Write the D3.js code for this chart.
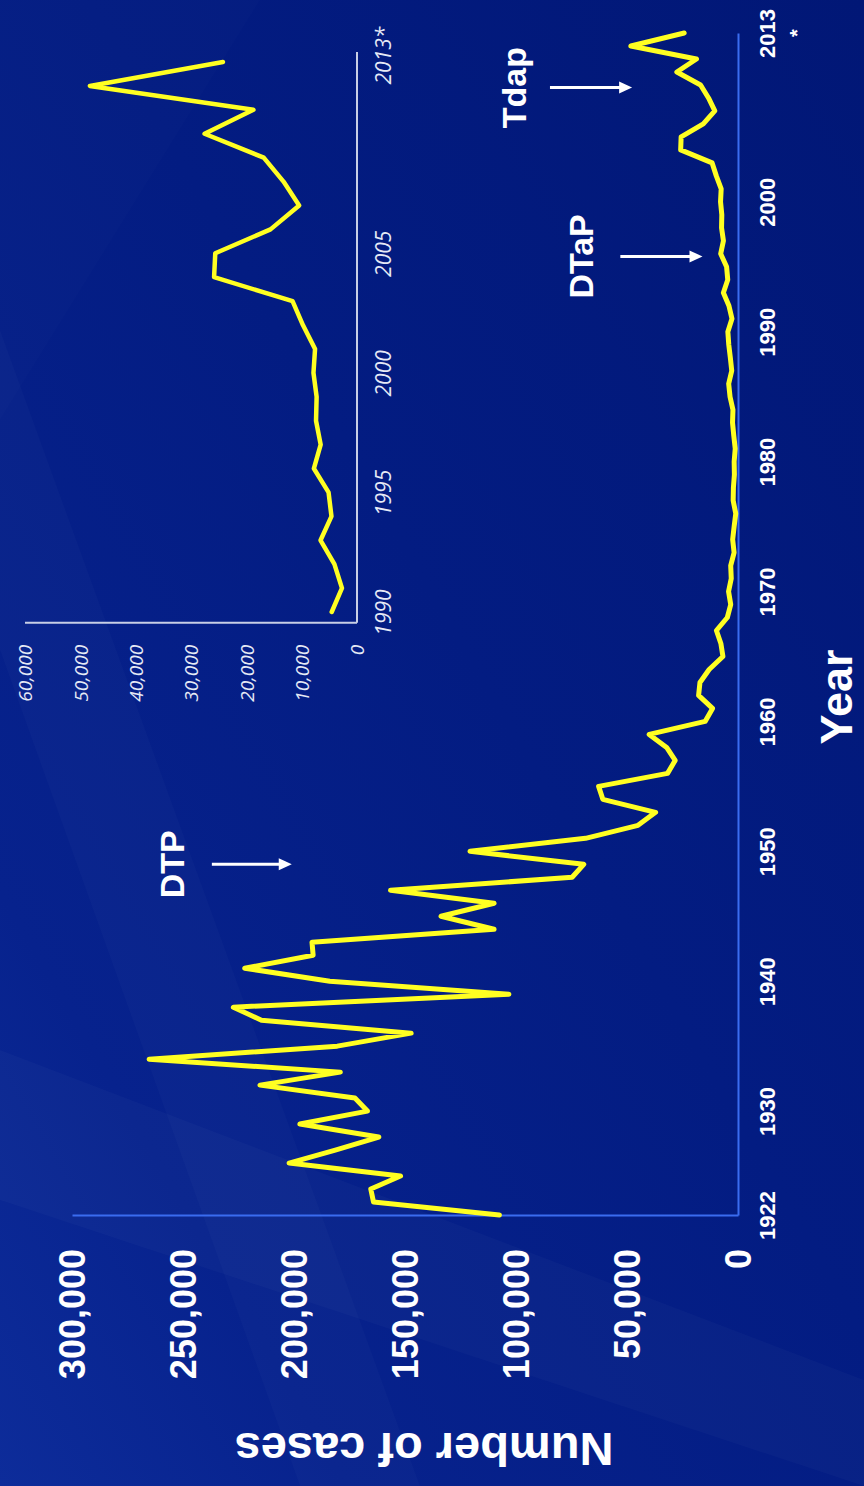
<!DOCTYPE html>
<html><head><meta charset="utf-8">
<script src="https://cdn.jsdelivr.net/npm/d3@7"></script>
<style>html,body{margin:0;padding:0;background:#06207f;} svg{display:block;}</style>
</head><body><svg id="c" width="864" height="1486"></svg>
<script>
// ---- data ----
const years = [1922,1923,1924,1925,1926,1927,1928,1929,1930,1931,1932,1933,1934,1935,1936,1937,1938,1939,1940,1941,1942,1943,1944,1945,1946,1947,1948,1949,1950,1951,1952,1953,1954,1955,1956,1957,1958,1959,1960,1961,1962,1963,1964,1965,1966,1967,1968,1969,1970,1971,1972,1973,1974,1975,1976,1977,1978,1979,1980,1981,1982,1983,1984,1985,1986,1987,1988,1989,1990,1991,1992,1993,1994,1995,1996,1997,1998,1999,2000,2001,2002,2003,2004,2005,2006,2007,2008,2009,2010,2011,2012,2013];
const cases = [107473,164191,165418,152003,202210,181411,161799,197371,166914,172559,215343,179135,265269,180518,147237,214652,227319,103188,183866,222202,191383,191890,109873,133792,109860,156517,74715,69479,120718,68687,45030,37129,60886,62786,31732,28295,32148,40005,14809,11468,17749,17135,13005,6799,7717,9718,4810,3285,4249,3036,3287,1759,2402,1738,1010,2177,2063,1623,1730,1248,1895,2463,2276,3589,4195,2823,3450,4157,4570,2719,4083,6586,4617,5137,7796,6564,7405,7298,7867,7580,9771,11647,25827,25616,15632,10454,13278,16858,27550,18719,48277,24231];
const insetYears = [1990,1991,1992,1993,1994,1995,1996,1997,1998,1999,2000,2001,2002,2003,2004,2005,2006,2007,2008,2009,2010,2011,2012,2013];
const insetCases = [4570,2719,4083,6586,4617,5137,7796,6564,7405,7298,7867,7580,9771,11647,25827,25616,15632,10454,13278,16858,27550,18719,48277,24231];
const mainYearTicks = [1922,1930,1940,1950,1960,1970,1980,1990,2000,2013];
const mainYearLabels = ["1922","1930","1940","1950","1960","1970","1980","1990","2000","2013"];
const mainCaseTicks = [0,50000,100000,150000,200000,250000,300000];
const insetYearTicks = [1990,1995,2000,2005,2013];
const insetYearLabels = ["1990","1995","2000","2005","2013*"];
const insetCaseTicks = [0,10000,20000,30000,40000,50000,60000];
const annotationLabels = ["DTP","DTaP","Tdap"];
const annotationYears = [1949,1995.8,2008.8];

// ---- layout ----
const svg = d3.select("#c");
const defs = svg.append("defs");
const g1 = defs.append("linearGradient").attr("id","bg").attr("x1","1").attr("y1","0").attr("x2","0").attr("y2","1");
g1.append("stop").attr("offset","0").attr("stop-color","#011776");
g1.append("stop").attr("offset","0.45").attr("stop-color","#031c82");
g1.append("stop").attr("offset","0.8").attr("stop-color","#07228d");
g1.append("stop").attr("offset","1").attr("stop-color","#0d2c9a");
svg.append("rect").attr("width",864).attr("height",1486).attr("fill","url(#bg)");
// subtle diagonal streaks
svg.append("path").attr("d","M0,330 L420,1486 L300,1486 L0,650 Z").attr("fill","#ffffff").attr("opacity",0.02);
svg.append("path").attr("d","M0,1050 L864,1380 L864,1486 L0,1200 Z").attr("fill","#ffffff").attr("opacity",0.025);
svg.append("path").attr("d","M0,0 L260,0 L0,420 Z").attr("fill","#ffffff").attr("opacity",0.012);

const boldFont = "'Liberation Sans', Arial, Helvetica, sans-serif";
const italicFont = "'Open Sans', 'DejaVu Sans', sans-serif";

// main scales (chart drawn rotated: years run upward, cases run leftward)
const yMain = d3.scaleLinear().domain([1922, 2013]).range([1215, 33]);
const xMain = d3.scaleLinear().domain([0, 300000]).range([738, 72]);

// year axis
const ya = svg.append("g").attr("transform","translate(738,0)")
  .call(d3.axisRight(yMain).tickValues(mainYearTicks).tickSize(0).tickSizeOuter(0)
        .tickFormat((d,i)=>mainYearLabels[i]));
ya.select(".domain").attr("stroke","#3a6cf0").attr("stroke-width",2);
ya.selectAll("text").attr("x",0).attr("y",0).attr("dy","0.36em")
  .attr("transform","translate(29,0) rotate(-90)").attr("text-anchor","middle")
  .attr("fill","#ffffff").style("font-family",boldFont).style("font-weight","bold").style("font-size","22px");
svg.append("text").attr("transform",`translate(790,${yMain(2013)}) rotate(-90)`).attr("text-anchor","middle")
  .attr("dy","0.7em").attr("fill","#ffffff").style("font-family",boldFont).style("font-weight","bold").style("font-size","20px").text("*");

// case axis
const xa = svg.append("g").attr("transform","translate(0,1215)")
  .call(d3.axisBottom(xMain).tickValues(mainCaseTicks).tickSize(0).tickSizeOuter(0).tickFormat(d3.format(",")));
xa.select(".domain").attr("stroke","#3a6cf0").attr("stroke-width",2);
xa.selectAll("text").attr("x",0).attr("y",0).attr("dy","0.36em")
  .attr("transform","translate(0,34) rotate(-90)").attr("text-anchor","end")
  .attr("fill","#ffffff").style("font-family",boldFont).style("font-weight","bold").style("font-size","36px");

// main line
const lineMain = d3.line().x((d,i)=>xMain(cases[i])).y((d,i)=>yMain(years[i]));
svg.append("path").datum(years).attr("d",lineMain).attr("fill","none")
  .attr("stroke","#ffff22").attr("stroke-width",5).attr("stroke-linejoin","round").attr("stroke-linecap","round");

// axis titles
svg.append("text").attr("transform","translate(836,697) rotate(-90)").attr("text-anchor","middle").attr("dy","0.36em")
  .attr("fill","#ffffff").style("font-family",boldFont).style("font-weight","bold").style("font-size","45px").text("Year");
svg.append("text").attr("transform","translate(424,1450) rotate(180)").attr("text-anchor","middle").attr("dy","0.36em")
  .attr("fill","#ffffff").style("font-family",boldFont).style("font-weight","bold").style("font-size","47px").text("Number of cases");

// annotations: label + arrow pointing toward the curve
const annTextVal = [255000, 71000, 101000];
const annTailVal = [237000, 53000, 84700];
const annTipVal = [201000, 16000, 47700];
annotationLabels.forEach((lab,i)=>{
  const y = yMain(annotationYears[i]);
  svg.append("text").attr("transform",`translate(${xMain(annTextVal[i])},${y}) rotate(-90)`)
    .attr("text-anchor","middle").attr("dy","0.36em").attr("fill","#ffffff")
    .style("font-family",boldFont).style("font-weight","bold").style("font-size","34px").text(lab);
  const x0 = xMain(annTailVal[i]), x1 = xMain(annTipVal[i]);
  svg.append("line").attr("x1",x0).attr("y1",y).attr("x2",x1-10).attr("y2",y)
    .attr("stroke","#ffffff").attr("stroke-width",3);
  svg.append("path").attr("d",`M${x1},${y} L${x1-13},${y-6} L${x1-13},${y+6} Z`).attr("fill","#ffffff");
});

// ---- inset ----
const yIn = d3.scaleLinear().domain([1990, 2013]).range([612, 62]);
const xIn = d3.scaleLinear().domain([0, 60000]).range([357, 25]);
svg.append("line").attr("x1",xIn(0)).attr("x2",xIn(0)).attr("y1",yIn(1989.55)).attr("y2",yIn(2013.42))
  .attr("stroke","#c8cfe6").attr("stroke-width",2);
svg.append("line").attr("x1",xIn(0)).attr("x2",xIn(60000)).attr("y1",yIn(1989.55)).attr("y2",yIn(1989.55))
  .attr("stroke","#c8cfe6").attr("stroke-width",2);

const iya = svg.append("g").attr("transform",`translate(${xIn(0)},0)`)
  .call(d3.axisRight(yIn).tickValues(insetYearTicks).tickSize(0).tickSizeOuter(0).tickFormat((d,i)=>insetYearLabels[i]));
iya.select(".domain").remove();
iya.selectAll("text").attr("x",0).attr("y",0).attr("dy","0.36em")
  .attr("transform","translate(26,0) rotate(-90)").attr("text-anchor","middle")
  .attr("fill","#e6eaf6").style("font-family",italicFont).style("font-style","italic").style("font-size","21px");
iya.selectAll(".tick").filter(d=>d===2013).select("text").attr("text-anchor","start").attr("x",-22);

const ixa = svg.append("g").attr("transform",`translate(0,${yIn(1989.55)})`)
  .call(d3.axisBottom(xIn).tickValues(insetCaseTicks).tickSize(0).tickSizeOuter(0).tickFormat(d3.format(",")));
ixa.select(".domain").remove();
ixa.selectAll("text").attr("x",0).attr("y",0).attr("dy","0.36em")
  .attr("transform","translate(0,22) rotate(-90)").attr("text-anchor","end")
  .attr("fill","#e6eaf6").style("font-family",italicFont).style("font-style","italic").style("font-size","19px");

const lineIn = d3.line().x((d,i)=>xIn(insetCases[i])).y((d,i)=>yIn(insetYears[i]));
svg.append("path").datum(insetYears).attr("d",lineIn).attr("fill","none")
  .attr("stroke","#ffff22").attr("stroke-width",4.5).attr("stroke-linejoin","round").attr("stroke-linecap","round");
</script></body></html>
